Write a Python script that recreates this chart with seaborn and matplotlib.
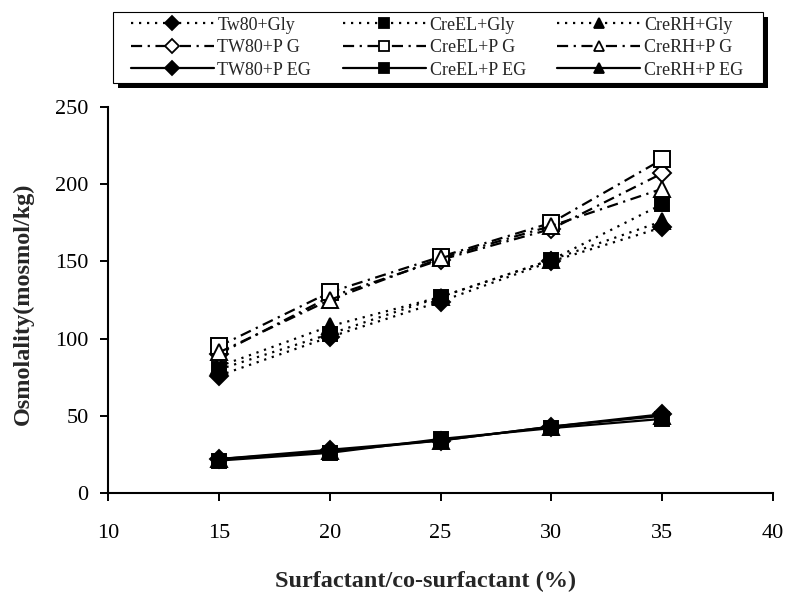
import matplotlib
matplotlib.use("Agg")
import matplotlib.pyplot as plt
import seaborn as sns
import pandas as pd
from matplotlib.lines import Line2D
from matplotlib.patches import Rectangle

sns.set_style("ticks")
plt.rcParams['font.family'] = ['Liberation Serif', 'DejaVu Serif']

x = [15, 20, 25, 30, 35]
labels = ["Tw80+Gly", "CreEL+Gly", "CreRH+Gly",
          "TW80+P G", "CreEL+P G", "CreRH+P G",
          "TW80+P EG", "CreEL+P EG", "CreRH+P EG"]
tw80_gly = [76, 101, 124, 150, 172]
creel_gly = [80, 103, 127, 151, 187]
crerh_gly = [82, 108, 127, 151, 176]
tw80_pg = [90, 127, 151, 171, 207]
creel_pg = [95, 130, 153, 175, 216]
crerh_pg = [91, 125, 152, 173, 197]
tw80_peg = [22, 28, 34, 43, 51]
creel_peg = [21, 26, 35, 42, 48]
crerh_peg = [22, 27, 34, 43, 50]
series = [tw80_gly, creel_gly, crerh_gly, tw80_pg, creel_pg, crerh_pg,
          tw80_peg, creel_peg, crerh_peg]
markers = ['D', 's', '^', 'D', 's', '^', 'D', 's', '^']
fills = ['black', 'black', 'black', 'white', 'white', 'white', 'black', 'black', 'black']
dot = (0, (1, 2.6))
dashdot = (0, (5, 2.5, 1, 2.5))
styles = [dot, dot, dot, dashdot, dashdot, dashdot, '-', '-', '-']
msizes = [9, 10.5, 11, 9, 11.5, 11.5, 9, 10.5, 11]

W, H = 789, 595
fig = plt.figure(figsize=(7.89, 5.95), dpi=100)
ax = fig.add_axes([108 / W, 1 - 493 / H, 665 / W, 386 / H])

handles = []
for lab, ys, m, fc, ls, ms in zip(labels, series, markers, fills, styles, msizes):
    df = pd.DataFrame({"x": x, "y": ys})
    sns.lineplot(data=df, x="x", y="y", ax=ax, color="black", linewidth=1.6,
                 linestyle=ls, marker=m, markersize=ms, markerfacecolor=fc,
                 markeredgecolor="black", markeredgewidth=1.4)
    handles.append(Line2D([], [], color="black", linestyle=ls, linewidth=1.6,
                          marker=m, markersize=7.5, markerfacecolor=fc,
                          markeredgecolor="black", markeredgewidth=1.3))

ax.set_xlim(10, 40)
ax.set_ylim(0, 250)
ax.set_xticks([10, 15, 20, 25, 30, 35, 40])
ax.set_yticks([0, 50, 100, 150, 200, 250])
ax.tick_params(axis='both', labelsize=16, direction='out', length=6, width=1.4, colors='black')
ax.tick_params(axis='x', pad=16)
ax.tick_params(axis='y', pad=8)
for s in ['top', 'right']:
    ax.spines[s].set_visible(False)
for s in ['left', 'bottom']:
    ax.spines[s].set_linewidth(1.5)
    ax.spines[s].set_color('black')
ax.set_xlabel("Surfactant/co-surfactant (%)", fontsize=17.5, fontweight='bold', va='center')
ax.xaxis.set_label_coords(0.478, -0.228)
ax.set_ylabel("Osmolality(mosmol/kg)", fontsize=17.5, fontweight='bold', va='center')
ax.yaxis.set_label_coords(-0.128, 0.49)

# legend ordered so rows read Gly / PG / PEG
order = [0, 3, 6, 1, 4, 7, 2, 5, 8]
leg = fig.legend([handles[i] for i in order], [labels[i] for i in order],
                 ncol=3, loc='upper left', bbox_to_anchor=(128 / W, 1 - 14 / H),
                 fontsize=13, frameon=False,
                 handlelength=4.6, columnspacing=1.75, labelspacing=0.3,
                 borderpad=0.15, borderaxespad=0, handletextpad=0.2)

# legend frame with a solid black drop shadow
fx0, fx1, ftop, fbot = 113, 763, 12, 83
fig.patches.append(Rectangle((fx0 + 5, H - fbot - 5), fx1 - fx0, fbot - ftop, transform=None,
                             facecolor='black', edgecolor='none', zorder=0.5))
fig.patches.append(Rectangle((fx0, H - fbot), fx1 - fx0, fbot - ftop, transform=None,
                             facecolor='white', edgecolor='black', linewidth=0.8, zorder=0.6))

fig.savefig("out.png", dpi=100)
